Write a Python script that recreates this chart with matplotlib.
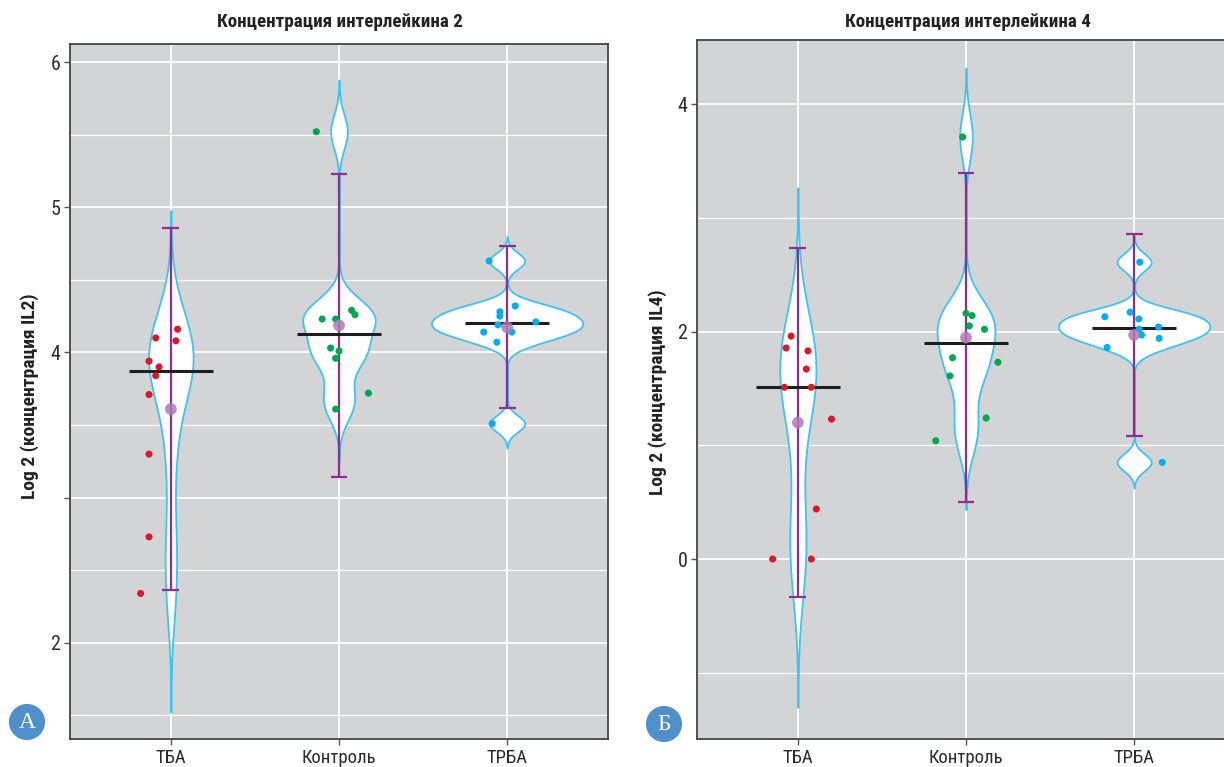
import numpy as np
import matplotlib
matplotlib.use("Agg")
import matplotlib.pyplot as plt
from matplotlib import font_manager

# %% data
groups = ["ТБА", "Контроль", "ТРБА"]

il2_tba = [4.16, 4.10, 4.08, 3.94, 3.90, 3.84, 3.71, 3.30, 2.73, 2.34]
il2_control = [5.52, 4.23, 4.23, 4.29, 4.26, 4.03, 4.01, 3.96, 3.72, 3.61]
il2_trba = [4.63, 4.32, 4.28, 4.25, 4.21, 4.19, 4.14, 4.14, 4.07, 3.51]

il4_tba = [1.96, 1.855, 1.83, 1.67, 1.51, 1.51, 1.23, 0.44, 0.0, 0.0]
il4_control = [3.71, 2.16, 2.14, 2.05, 2.02, 1.77, 1.73, 1.61, 1.24, 1.04]
il4_trba = [2.61, 2.17, 2.13, 2.11, 2.04, 2.02, 1.97, 1.94, 1.86, 0.85]

# horizontal jitter of the points (in category units), as seen in the picture
jit_il2_tba = [0.04, -0.09, 0.03, -0.13, -0.07, -0.09, -0.13, -0.13, -0.13, -0.18]
jit_il2_control = [-0.135, -0.10, -0.02, 0.075, 0.095, -0.05, 0.0, -0.02, 0.175, -0.02]
jit_il2_trba = [-0.107, 0.048, -0.043, -0.043, 0.171, -0.054, -0.139, 0.028, -0.061, -0.089]

jit_il4_tba = [-0.04, -0.07, 0.06, 0.05, -0.08, 0.08, 0.20, 0.11, -0.15, 0.08]
jit_il4_control = [-0.02, 0.0, 0.036, 0.02, 0.11, -0.08, 0.19, -0.095, 0.12, -0.18]
jit_il4_trba = [0.034, -0.024, -0.174, 0.028, 0.145, 0.03, 0.044, 0.149, -0.161, 0.167]

point_colors = ["#D9192A", "#00A650", "#00AEEF"]

# %% fonts: look for a narrow sans, otherwise ask for a condensed stretch
names = {f.name for f in font_manager.fontManager.ttflist}
cands = ["Roboto Condensed", "Liberation Sans Narrow", "Open Sans Condensed",
         "Noto Sans Condensed", "DejaVu Sans Condensed", "Arial Narrow"]
narrow = next((c for c in cands if c in names), None)
if narrow is None:
    narrow = "DejaVu Sans"
    plt.rcParams["font.stretch"] = "condensed"
plt.rcParams["font.family"] = [narrow, "DejaVu Sans"]


# %% helpers: R-like density (nrd0 bandwidth, cut = 3)
def nrd0(x):
    x = np.asarray(x, float)
    sd = x.std(ddof=1)
    q1, q3 = np.percentile(x, [25, 75])
    return 0.9 * min(sd, (q3 - q1) / 1.34) * len(x) ** -0.2


def kde(x):
    x = np.asarray(x, float)
    bw = nrd0(x)
    grid = np.linspace(x.min() - 3 * bw, x.max() + 3 * bw, 512)
    d = np.exp(-0.5 * ((grid[:, None] - x[None, :]) / bw) ** 2).sum(1)
    return grid, d / (len(x) * bw * np.sqrt(2 * np.pi))


def draw_panel(ax, data, jitter):
    dens = [kde(v) for v in data]
    dmax = max(d.max() for _, d in dens)
    for i, vals in enumerate(data):
        g, d = dens[i]
        w = 0.45 * d / dmax
        ax.fill_betweenx(g, i - w, i + w, facecolor="white",
                         edgecolor="#3FC3F0", lw=1.3, zorder=2)
        vals = np.asarray(vals)
        m, s = vals.mean(), vals.std(ddof=1)
        ax.vlines(i, m - 2 * s, m + 2 * s, color="#8E2D92", lw=1.6, zorder=3)
        ax.hlines([m - 2 * s, m + 2 * s], i - 0.05, i + 0.05,
                  color="#8E2D92", lw=1.6, zorder=3)
        ax.hlines(np.median(vals), i - 0.25, i + 0.25, color="#1E1E1E",
                  lw=2.2, zorder=4)
        ax.scatter(i + np.asarray(jitter[i]), vals, s=26, color=point_colors[i],
                   edgecolor="none", zorder=5)
        ax.scatter(i, m, s=72, color="#B07AB6", alpha=0.85, edgecolor="none",
                   zorder=6)

    ax.set_facecolor("#D3D4D6")
    ax.set_xlim(-0.6, 2.6)
    ax.set_xticks(range(len(groups)))
    ax.set_xticklabels(groups)
    ax.grid(which="major", color="white", lw=1.3)
    ax.grid(which="minor", axis="y", color="white", lw=0.9)
    ax.set_axisbelow(True)
    ax.tick_params(which="major", length=4, width=1, color="#555555",
                   labelsize=13.5, labelcolor="#2b2b2b", pad=3)
    ax.tick_params(axis="y", labelsize=14.5)
    ax.tick_params(which="minor", length=0)
    for sp in ax.spines.values():
        sp.set_color("#444444")
        sp.set_linewidth(1.3)


# %% figure
W, H = 1224, 767
fig = plt.figure(figsize=(W / 100, H / 100), dpi=100)


def px_axes(x0, y0, x1, y1):
    return fig.add_axes([x0 / W, 1 - y1 / H, (x1 - x0) / W, (y1 - y0) / H])


ax1 = px_axes(70, 44, 608, 739)
draw_panel(ax1, [il2_tba, il2_control, il2_trba],
           [jit_il2_tba, jit_il2_control, jit_il2_trba])
ax1.set_ylim(1.338, 6.124)
ax1.set_yticks([2, 3, 4, 5, 6])
ax1.set_yticklabels(["2", "", "4", "5", "6"])
ax1.set_yticks([1.5, 2.5, 3.5, 4.5, 5.5], minor=True)

ax2 = px_axes(697, 40, 1235, 739)
draw_panel(ax2, [il4_tba, il4_control, il4_trba],
           [jit_il4_tba, jit_il4_control, jit_il4_trba])
ax2.set_ylim(-1.582, 4.563)
ax2.set_yticks([0, 2, 4])
ax2.set_yticks([-1, 1, 3], minor=True)

# titles and axis labels
fig.text(340 / W, 1 - 22 / H, "Концентрация интерлейкина 2", ha="center",
         va="center", fontsize=13.7, fontweight="bold", color="#222222")
fig.text(968 / W, 1 - 22 / H, "Концентрация интерлейкина 4", ha="center",
         va="center", fontsize=13.7, fontweight="bold", color="#222222")
fig.text(30 / W, 1 - 396 / H, "Log 2 (концентрация IL2)", rotation=90,
         ha="center", va="center", fontsize=14, fontweight="bold",
         color="#222222")
fig.text(658 / W, 1 - 392 / H, "Log 2 (концентрация IL4)", rotation=90,
         ha="center", va="center", fontsize=14, fontweight="bold",
         color="#222222")

# panel badges
for x, y, lab in [(27, 722, "А"), (664, 724, "Б")]:
    fig.text(x / W, 1 - y / H, lab, ha="center", va="center", fontsize=17,
             color="white", family=["Liberation Serif", "DejaVu Serif"],
             bbox=dict(boxstyle="circle,pad=0.32", fc="#4F8FCB", ec="none"))

fig.savefig("out.png", dpi=100)
